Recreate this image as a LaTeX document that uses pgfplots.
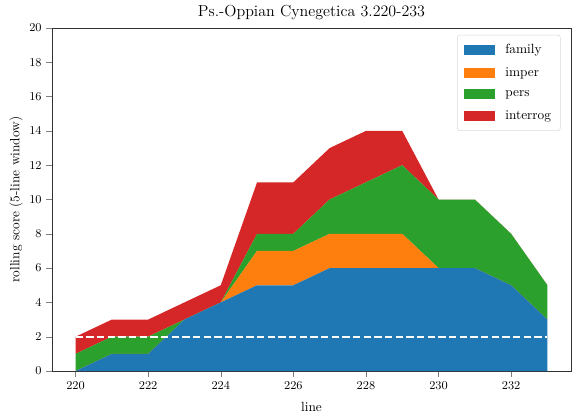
\documentclass[border=0pt]{standalone}
\usepackage{pgfplots}
\pgfplotsset{compat=1.18}
\definecolor{tblue}{HTML}{1F77B4}
\definecolor{torange}{HTML}{FF7F0E}
\definecolor{tgreen}{HTML}{2CA02C}
\definecolor{tred}{HTML}{D62728}
\pgfplotsset{myaxis/.style={
  at={(0,0)}, anchor=south west,
  scale only axis, width=389.25pt, height=257.25pt,
  xmin=219.35, xmax=233.65, ymin=0, ymax=20,
}}
\begin{document}
\begin{tikzpicture}
\path[use as bounding box] (-39pt,-35.25pt) rectangle (394.5pt,278.25pt);
\begin{axis}[
  myaxis,
  xtick={220,222,...,232}, ytick={0,2,...,20},
  tick align=outside, xtick pos=left, ytick pos=left,
  tick label style={font=\small},
  title={Ps.-Oppian Cynegetica 3.220-233},
  title style={yshift=-3pt, font=\large},
  xlabel={line}, ylabel={rolling score (5-line window)},
  xlabel style={yshift=-3pt}, ylabel style={yshift=-2pt},
  label style={font=\normalsize},
  axis line style={black!80},
  legend style={at={(0.98,0.98)}, anchor=north east, draw=black!15, rounded corners=2pt, font=\normalsize, row sep=5pt, inner sep=5pt},
  legend cell align=left,
  legend image code/.code={\fill[#1, sharp corners] (0pt,-3.5pt) rectangle (23pt,4pt); \path (29pt,0pt);},
  stack plots=y,
]
\addplot[fill=tblue, draw=none] coordinates {(220,0) (221,1) (222,1) (223,3) (224,4) (225,5) (226,5) (227,6) (228,6) (229,6) (230,6) (231,6) (232,5) (233,3)} \closedcycle;
\addlegendentry{family}
\addplot[fill=torange, draw=none] coordinates {(220,0) (221,0) (222,0) (223,0) (224,0) (225,2) (226,2) (227,2) (228,2) (229,2) (230,0) (231,0) (232,0) (233,0)} \closedcycle;
\addlegendentry{imper}
\addplot[fill=tgreen, draw=none] coordinates {(220,1) (221,1) (222,1) (223,0) (224,0) (225,1) (226,1) (227,2) (228,3) (229,4) (230,4) (231,4) (232,3) (233,2)} \closedcycle;
\addlegendentry{pers}
\addplot[fill=tred, draw=none] coordinates {(220,1) (221,1) (222,1) (223,1) (224,1) (225,3) (226,3) (227,3) (228,3) (229,2) (230,0) (231,0) (232,0) (233,0)} \closedcycle;
\addlegendentry{interrog}
\end{axis}
\begin{axis}[myaxis, hide axis]
\addplot[white, line width=1.5pt, dash pattern=on 5.5pt off 2.5pt] coordinates {(220,2) (233,2)};
\end{axis}
\end{tikzpicture}
\end{document}
